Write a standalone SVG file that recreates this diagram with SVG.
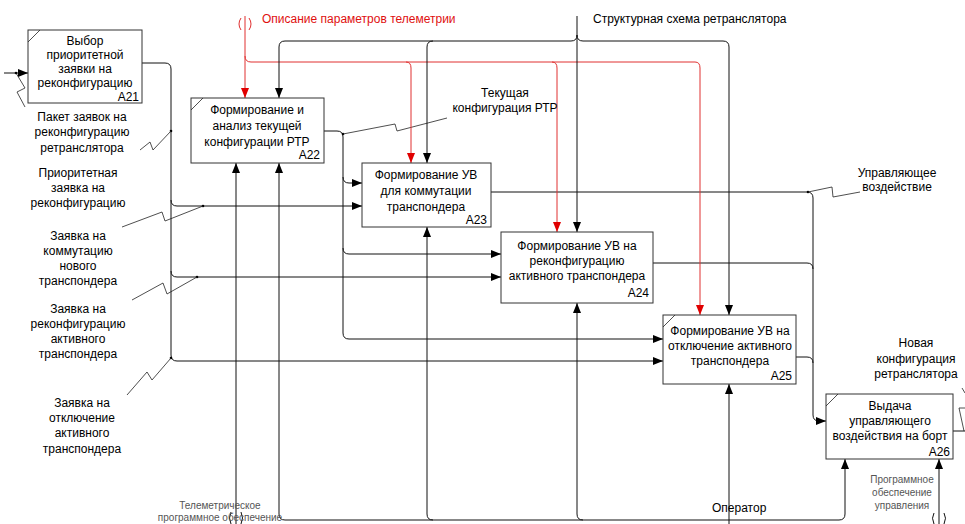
<svg xmlns="http://www.w3.org/2000/svg" width="965" height="524" viewBox="0 0 965 524">
<style>
text{font-family:"Liberation Sans",Arial,sans-serif;font-size:12px;fill:#000}
.c{text-anchor:middle}
.r{text-anchor:end}
.sm{font-size:10px;fill:#555}
.red{fill:#e01010}
.box{fill:#fff;stroke:#333;stroke-width:1}
.ln{fill:none;stroke:#111;stroke-width:1}
.rl{fill:none;stroke:#e03030;stroke-width:1}
.sq{fill:none;stroke:#222;stroke-width:0.8}
</style>
<defs>
<marker id="a" viewBox="0 0 10 8" refX="10" refY="4" markerWidth="10" markerHeight="8" markerUnits="userSpaceOnUse" orient="auto"><path d="M0,0 L10,4 L0,8 z" fill="#000"/></marker>
<marker id="ar" viewBox="0 0 10 8" refX="10" refY="4" markerWidth="10" markerHeight="8" markerUnits="userSpaceOnUse" orient="auto"><path d="M0,0 L10,4 L0,8 z" fill="#e00000"/></marker>
</defs>
<rect width="965" height="524" fill="#fff"/>
<g id="connectors">
<path class="ln" d="M4,73 H28" marker-end="url(#a)"/>
<polyline class="sq" points="16,73 25,88 17,92 25,107"/>
<circle cx="16" cy="73" r="1.3"/>
<path class="ln" d="M142,63 H165 Q171,63 171,69 V355 Q171,361 177,361 H663" marker-end="url(#a)"/>
<path class="ln" d="M171,200 Q171,206 177,206 H362" marker-end="url(#a)"/>
<path class="ln" d="M171,271 Q171,277 177,277 H501" marker-end="url(#a)"/>
<circle cx="171" cy="131" r="1.3"/>
<polyline class="sq" points="140,150 150,142 153,150 171,131"/>
<circle cx="203" cy="206" r="1.3"/>
<polyline class="sq" points="122,227 162,212 165,221 203,206"/>
<circle cx="197" cy="277" r="1.3"/>
<polyline class="sq" points="132,300 163,283 167,294 197,277"/>
<circle cx="171" cy="358" r="1.3"/>
<polyline class="sq" points="127,395 147,372 152,380 171,358"/>
<path class="ln" d="M324,131 H337 Q343,131 343,137 V333 Q343,339 349,339 H663" marker-end="url(#a)"/>
<path class="ln" d="M343,177 Q343,183 349,183 H362" marker-end="url(#a)"/>
<path class="ln" d="M343,248 Q343,254 349,254 H501" marker-end="url(#a)"/>
<circle cx="343" cy="134" r="1.3"/>
<polyline class="sq" points="343,134 395,124 397,131 447,118"/>
<path class="ln" d="M491,192 H807 Q813,192 813,198 V415 Q813,421 819,421 H826" marker-end="url(#a)"/>
<path class="ln" d="M653,263 H807 Q813,263 813,269"/>
<path class="ln" d="M796,357 H807 Q813,357 813,363"/>
<circle cx="808" cy="192" r="1.3"/>
<polyline class="sq" points="808,192 832,187 833,197 860,192"/>
<path class="ln" d="M953,431 H965"/>
<polyline class="sq" points="964,431 959,408 965,408"/>
<line class="sq" x1="962" y1="388" x2="965" y2="393"/>
<path class="rl" d="M245,16 V98" marker-end="url(#ar)"/>
<path class="rl" d="M245,56 Q245,62 251,62 H406 Q411,62 411,68 V163" marker-end="url(#ar)"/>
<path class="rl" d="M406,62 H552 Q557,62 557,68 V232" marker-end="url(#ar)"/>
<path class="rl" d="M552,62 H695 Q700,62 700,68 V315" marker-end="url(#ar)"/>
<path class="rl" d="M241,18 Q237,24 241,30 M249,18 Q253,24 249,30"/>
<path class="ln" d="M577,16 V232" marker-end="url(#a)"/>
<path class="ln" d="M577,35 Q577,41 571,41 H285 Q279,41 279,47 V98" marker-end="url(#a)"/>
<path class="ln" d="M433,41 Q427,41 427,47 V163" marker-end="url(#a)"/>
<path class="ln" d="M577,35 Q577,41 583,41 H723 Q729,41 729,47 V315" marker-end="url(#a)"/>
<path class="ln" d="M236,524 V163" marker-end="url(#a)"/>
<path class="ln" d="M231,512 Q228,518 231,524 M241,512 Q244,518 241,524"/>
<path class="ln" d="M845,514 Q845,520 839,520 H285 Q279,520 279,514 V163" marker-end="url(#a)"/>
<path class="ln" d="M845,514 V459" marker-end="url(#a)"/>
<path class="ln" d="M433,520 Q427,520 427,514 V227" marker-end="url(#a)"/>
<path class="ln" d="M583,520 Q577,520 577,514 V303" marker-end="url(#a)"/>
<path class="ln" d="M729,524 V384" marker-end="url(#a)"/>
<path class="ln" d="M939,524 V459" marker-end="url(#a)"/>
<path class="ln" d="M934,513 Q931,518 934,524 M944,513 Q947,518 944,524"/>
</g>
<g id="A21">
<rect class="box" x="28" y="30" width="114" height="73"/>
<line class="sq" x1="28" y1="42" x2="40" y2="30"/>
<text class="c" x="85" y="45">Выбор</text>
<text class="c" x="85" y="59">приоритетной</text>
<text class="c" x="85" y="73">заявки на</text>
<text class="c" x="85" y="87">реконфигурацию</text>
<text class="r" x="139" y="101">A21</text>
</g>
<g id="A22">
<rect class="box" x="191" y="98" width="133" height="65"/>
<line class="sq" x1="191" y1="110" x2="203" y2="98"/>
<text class="c" x="257" y="114">Формирование и</text>
<text class="c" x="257" y="130">анализ текущей</text>
<text class="c" x="257" y="146">конфигурации РТР</text>
<text class="r" x="320" y="159">A22</text>
</g>
<g id="A23">
<rect class="box" x="362" y="163" width="129" height="64"/>
<text class="c" x="426" y="179">Формирование УВ</text>
<text class="c" x="426" y="195">для коммутации</text>
<text class="c" x="426" y="211">транспондера</text>
<text class="r" x="487" y="224">A23</text>
</g>
<g id="A24">
<rect class="box" x="501" y="232" width="152" height="71"/>
<text class="c" x="577" y="250">Формирование УВ на</text>
<text class="c" x="577" y="265">реконфигурацию</text>
<text class="c" x="577" y="280">активного транспондера</text>
<text class="r" x="649" y="297">A24</text>
</g>
<g id="A25">
<rect class="box" x="663" y="315" width="133" height="69"/>
<line class="sq" x1="663" y1="327" x2="675" y2="315"/>
<text class="c" x="730" y="335">Формирование УВ на</text>
<text class="c" x="730" y="350">отключение активного</text>
<text class="c" x="730" y="365">транспондера</text>
<text class="r" x="792" y="380">A25</text>
</g>
<g id="A26">
<rect class="box" x="826" y="394" width="127" height="65"/>
<line class="sq" x1="826" y1="406" x2="838" y2="394"/>
<text class="c" x="890" y="410">Выдача</text>
<text class="c" x="890" y="425">управляющего</text>
<text class="c" x="890" y="440">воздействия на борт</text>
<text class="r" x="950" y="456">A26</text>
</g>
<g id="labels">
<text class="red" x="262" y="23">Описание параметров телеметрии</text>
<text x="593" y="23">Структурная схема ретранслятора</text>
<text class="c" x="505" y="97">Текущая</text>
<text class="c" x="505" y="112">конфигурация РТР</text>
<text class="c" x="82" y="121">Пакет заявок на</text>
<text class="c" x="82" y="136">реконфигурацию</text>
<text class="c" x="82" y="152">ретранслятора</text>
<text class="c" x="78" y="177">Приоритетная</text>
<text class="c" x="78" y="192">заявка на</text>
<text class="c" x="78" y="207">реконфигурацию</text>
<text class="c" x="78" y="240">Заявка на</text>
<text class="c" x="78" y="255">коммутацию</text>
<text class="c" x="78" y="270">нового</text>
<text class="c" x="78" y="285">транспондера</text>
<text class="c" x="78" y="313">Заявка на</text>
<text class="c" x="78" y="328">реконфигурацию</text>
<text class="c" x="78" y="343">активного</text>
<text class="c" x="78" y="358">транспондера</text>
<text class="c" x="82" y="407">Заявка на</text>
<text class="c" x="82" y="422">отключение</text>
<text class="c" x="82" y="437">активного</text>
<text class="c" x="82" y="453">транспондера</text>
<text class="c" x="897" y="177">Управляющее</text>
<text class="c" x="897" y="191">воздействие</text>
<text class="c" x="916" y="347">Новая</text>
<text class="c" x="916" y="363">конфигурация</text>
<text class="c" x="916" y="378">ретранслятора</text>
<text x="712" y="512">Оператор</text>
<text class="c sm" x="220" y="509">Телеметрическое</text>
<text class="c sm" x="220" y="521">программное обеспечение</text>
<text class="c sm" x="902" y="483">Программное</text>
<text class="c sm" x="902" y="496">обеспечение</text>
<text class="c sm" x="902" y="509">управления</text>
</g>
</svg>
